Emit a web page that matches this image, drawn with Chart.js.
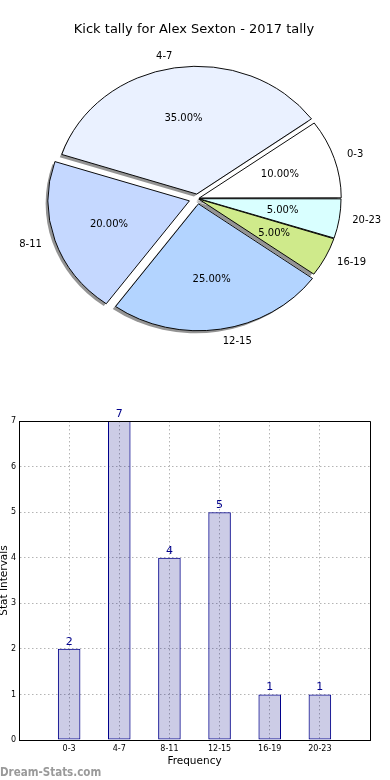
<!DOCTYPE html>
<html>
<head>
<meta charset="utf-8">
<title>Kick tally for Alex Sexton - 2017 tally</title>
<script src="https://cdn.jsdelivr.net/npm/chart.js@4.4.1/dist/chart.umd.min.js"></script>
<style>
  html, body { margin: 0; padding: 0; background: #fff; }
  body { width: 390px; height: 780px; position: relative; overflow: hidden; font-family: "DejaVu Sans", sans-serif; }
  #pieBox { position: absolute; left: 0; top: 0; width: 390px; height: 380px; }
  #barBox { position: absolute; left: 0; top: 390px; width: 390px; height: 390px; }
  #brand { position: absolute; left: 0; top: 765px; line-height: 14px; font-size: 11.5px; font-weight: bold;
           font-family: "DejaVu Sans Condensed", "DejaVu Sans", sans-serif; color: #9a9a9a; }
</style>
</head>
<body>
<div id="pieBox"><canvas id="pieChart"></canvas></div>
<div id="barBox"><canvas id="barChart"></canvas></div>
<div id="brand">Dream-Stats.com</div>
<script>
var categories = ['0-3', '4-7', '8-11', '12-15', '16-19', '20-23'];
var kicks = [2, 7, 4, 5, 1, 1];
var pieTitle = 'Kick tally for Alex Sexton - 2017 tally';
var xTitle = 'Frequency';
var yTitle = 'Stat Intervals';

// styling for the wedges (matplotlib look)
var sliceColors = ['#ffffff', '#eaf1ff', '#c5d8ff', '#b3d4ff', '#cfea8b', '#d9ffff'];
var sliceOffsets = [8, 20, 34, 24, 6, 6];

var FONT = '"DejaVu Sans", sans-serif';
var squash = 0.9; // the original pie is a bit flattened

// matplotlib goes counter-clockwise from 3 o'clock, chart.js clockwise -> reverse
var pieLabels = categories.slice().reverse();
var pieValues = kicks.slice().reverse();
var pieColors = sliceColors.slice().reverse();
var pieOffsets = sliceOffsets.slice().reverse();

var pieExtras = {
  id: 'pieExtras',
  beforeDatasetsDraw: function(chart) {
    var ctx = chart.ctx;
    var arcs = chart.getDatasetMeta(0).data;
    var cx = arcs[0].x, cy = arcs[0].y;
    ctx.save();
    ctx.translate(cx, cy);
    ctx.scale(1, squash);
    ctx.translate(-cx, -cy);
    // shadows under every wedge
    arcs.forEach(function(arc) {
      var off = (arc.options.offset || 0) / 4;
      var mid = (arc.startAngle + arc.endAngle) / 2;
      ctx.save();
      ctx.translate(Math.cos(mid) * off - 2.8, Math.sin(mid) * off + 2.8);
      ctx.beginPath();
      ctx.moveTo(arc.x, arc.y);
      ctx.arc(arc.x, arc.y, arc.outerRadius, arc.startAngle, arc.endAngle);
      ctx.closePath();
      ctx.fillStyle = 'rgba(60,60,60,0.55)';
      ctx.fill();
      ctx.restore();
    });
  },
  afterDatasetsDraw: function(chart) {
    chart.ctx.restore();
  },
  afterDraw: function(chart) {
    var ctx = chart.ctx;
    var arcs = chart.getDatasetMeta(0).data;
    var total = pieValues.reduce(function(a, b) { return a + b; }, 0);
    ctx.save();
    ctx.fillStyle = '#000';
    ctx.textBaseline = 'middle';
    ctx.font = '13px ' + FONT;
    ctx.textAlign = 'center';
    ctx.fillText(pieTitle, 194, 30);
    ctx.font = '10px ' + FONT;
    arcs.forEach(function(arc, i) {
      var off = (arc.options.offset || 0) / 4;
      var mid = (arc.startAngle + arc.endAngle) / 2;
      var R = arc.outerRadius;
      var c = Math.cos(mid), s = Math.sin(mid);
      // percentage inside
      var d = 0.6 * R + off;
      ctx.textAlign = 'center';
      ctx.fillText((pieValues[i] / total * 100).toFixed(2) + '%', arc.x + c * d, arc.y + s * d * squash);
      // category outside
      d = 1.1 * R + off;
      ctx.textAlign = c >= 0 ? 'left' : 'right';
      ctx.fillText(pieLabels[i], arc.x + c * d, arc.y + s * d * squash);
    });
    ctx.restore();
  }
};

new Chart(document.getElementById('pieChart'), {
  type: 'pie',
  data: {
    labels: pieLabels,
    datasets: [{
      data: pieValues,
      backgroundColor: pieColors,
      borderColor: '#000',
      borderWidth: 1,
      offset: pieOffsets
    }]
  },
  options: {
    responsive: true,
    maintainAspectRatio: false,
    animation: false,
    events: [],
    rotation: 90,
    radius: 141,
    layout: { padding: { left: 5, right: 0, top: 27, bottom: 10 } },
    plugins: { legend: { display: false }, tooltip: { enabled: false } }
  },
  plugins: [pieExtras]
});

var barExtras = {
  id: 'barExtras',
  afterDatasetsDraw: function(chart) {
    var ctx = chart.ctx;
    ctx.save();
    ctx.fillStyle = '#00008b';
    ctx.font = '11px ' + FONT;
    ctx.textAlign = 'center';
    ctx.textBaseline = 'alphabetic';
    chart.getDatasetMeta(0).data.forEach(function(bar, i) {
      ctx.fillText(String(kicks[i]), bar.x, bar.y - 4);
    });
    ctx.restore();
  },
  afterDraw: function(chart) {
    // close the frame on top and right
    var a = chart.chartArea, ctx = chart.ctx;
    ctx.save();
    ctx.strokeStyle = '#000';
    ctx.lineWidth = 1;
    ctx.beginPath();
    ctx.moveTo(a.left, Math.round(a.top) + 0.5);
    ctx.lineTo(Math.round(a.right) + 0.5, Math.round(a.top) + 0.5);
    ctx.lineTo(Math.round(a.right) + 0.5, a.bottom);
    ctx.stroke();
    ctx.restore();
  }
};

new Chart(document.getElementById('barChart'), {
  type: 'bar',
  data: {
    datasets: [{
      data: categories.map(function(c, i) { return { x: i, y: kicks[i] }; }),
      backgroundColor: 'rgba(0,0,128,0.2)',
      borderColor: '#00008b',
      borderWidth: 1,
      borderSkipped: false,
      categoryPercentage: 0.45,
      barPercentage: 1
    }]
  },
  options: {
    responsive: true,
    maintainAspectRatio: false,
    animation: false,
    events: [],
    layout: { padding: { left: 0, top: 31, right: 20, bottom: 0 } },
    plugins: { legend: { display: false }, tooltip: { enabled: false } },
    scales: {
      x: {
        type: 'linear',
        min: -1,
        max: 6,
        offset: false,
        afterFit: function(scale) { scale.height = 40; },
        ticks: {
          stepSize: 1,
          autoSkip: false,
          maxRotation: 0,
          padding: 4,
          color: '#000',
          font: { size: 8, family: FONT },
          callback: function(v) { return categories[v] || ''; }
        },
        grid: { offset: false, color: '#b4b4b4', lineWidth: 1, drawTicks: false },
        border: { display: true, color: '#000', width: 1, dash: [1.5, 2.5] },
        title: { display: true, text: xTitle, color: '#000', font: { size: 10.5, family: FONT, lineHeight: 1 }, padding: { bottom: 13, top: 0 } }
      },
      y: {
        min: 0,
        max: 7,
        afterFit: function(scale) { scale.width = 19; },
        ticks: { stepSize: 1, padding: 3, color: '#000', font: { size: 8, family: FONT } },
        grid: { color: '#b4b4b4', lineWidth: 1, drawTicks: false },
        border: { display: true, color: '#000', width: 1, dash: [1.5, 2.5] },
        title: { display: true, text: yTitle, color: '#000', font: { size: 10.5, family: FONT, lineHeight: 0.8 }, padding: { top: 0, bottom: 0 } }
      }
    }
  },
  plugins: [barExtras]
});
</script>
</body>
</html>
